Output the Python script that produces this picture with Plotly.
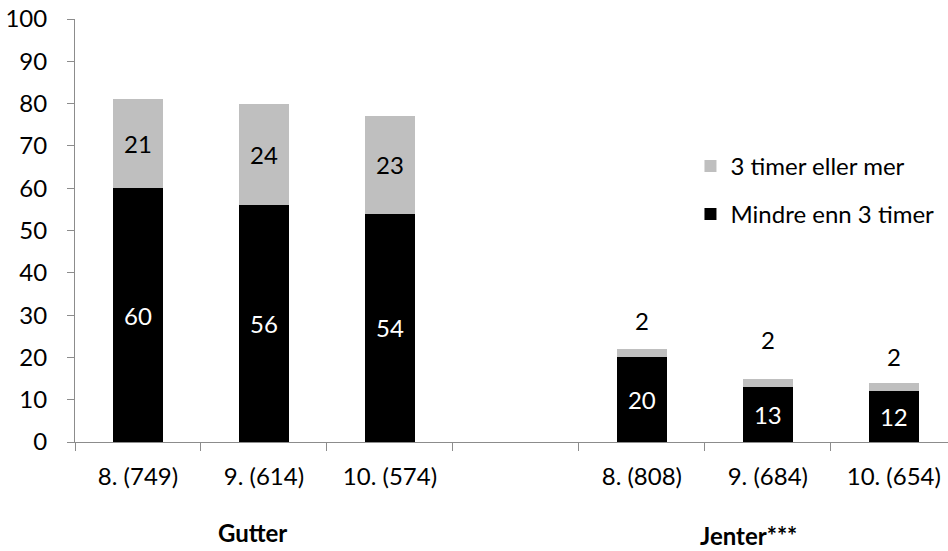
import plotly.graph_objects as go

# Grade (sample size) categories; a blank slot separates boys from girls
categories = ["8. (749)", "9. (614)", "10. (574)", " ", "8. (808)", "9. (684)", "10. (654)"]
under_3h = [60, 56, 54, None, 20, 13, 12]
over_3h = [21, 24, 23, None, 2, 2, 2]

series_names = ["Mindre enn 3 timer", "3 timer eller mer"]
group_labels = ["Gutter", "Jenter***"]

FONT = "Lato"
FS = 24
AXIS_GREY = "#8c8c8c"
LIGHT = "#bfbfbf"

# labels drawn inside the grey segment only where it is tall enough
over_inside = [str(v) if (v is not None and v >= 10) else "" for v in over_3h]

fig = go.Figure()
fig.add_trace(go.Bar(
    x=categories, y=under_3h, name=series_names[0],
    marker=dict(color="#000000", line=dict(width=0)),
    text=[str(v) if v is not None else "" for v in under_3h],
    textposition="inside", insidetextanchor="middle", textangle=0,
    insidetextfont=dict(family=FONT, size=FS, color="white"),
    legendgroup="a", legendrank=2,
))
fig.add_trace(go.Bar(
    x=categories, y=over_3h, name=series_names[1],
    marker=dict(color=LIGHT, line=dict(width=0)),
    text=over_inside,
    textposition="inside", insidetextanchor="middle", textangle=0,
    insidetextfont=dict(family=FONT, size=FS, color="black"),
    legendgroup="b", legendrank=1,
))

# small grey segments get their value written above the bar
label_shift = [23, 34, 21]
annotations = []
k = 0
for i, v in enumerate(over_3h):
    if v is not None and v < 10:
        annotations.append(dict(
            x=categories[i], y=under_3h[i] + v, xref="x", yref="y",
            text=str(v), showarrow=False, yanchor="bottom",
            yshift=label_shift[k] - 11,
            font=dict(family=FONT, size=FS, color="black"),
        ))
        k += 1

# group captions under the category labels
annotations.append(dict(x=0.91, y=-0.213, xref="x", yref="paper", text="<b>" + group_labels[0] + "</b>",
                        showarrow=False, yanchor="middle", font=dict(family=FONT, size=FS, color="black")))
annotations.append(dict(x=4.85, y=-0.222, xref="x", yref="paper", text="<b>" + group_labels[1] + "</b>",
                        showarrow=False, yanchor="middle", font=dict(family=FONT, size=FS, color="black")))

fig.update_layout(
    width=948, height=551,
    margin=dict(l=75, r=0, t=19, b=109),
    paper_bgcolor="white", plot_bgcolor="white",
    barmode="stack", bargap=0.6,
    font=dict(family=FONT, size=FS, color="black"),
    showlegend=True,
    legend=dict(
        x=0.705, y=0.705, xanchor="left", yanchor="top",
        traceorder="grouped", tracegroupgap=14,
        font=dict(family=FONT, size=FS, color="black"),
        bgcolor="rgba(0,0,0,0)",
    ),
    annotations=annotations,
    xaxis=dict(
        type="category", categoryorder="array", categoryarray=categories,
        range=[-0.5, 6.43], tickson="boundaries",
        ticks="outside", ticklen=8, tickcolor=AXIS_GREY,
        showline=True, linecolor=AXIS_GREY, linewidth=1,
        showgrid=False, zeroline=False, fixedrange=True,
        tickfont=dict(family=FONT, size=FS, color="black"),
        ticklabelstandoff=13,
    ),
    yaxis=dict(
        range=[0, 100], tickmode="array", tickvals=list(range(0, 101, 10)),
        ticks="outside", ticklen=7, tickcolor=AXIS_GREY,
        showline=True, linecolor=AXIS_GREY, linewidth=1,
        showgrid=False, zeroline=False, fixedrange=True,
        tickfont=dict(family=FONT, size=FS, color="black"),
        ticklabelstandoff=15,
    ),
)

fig.write_html("out.html")
